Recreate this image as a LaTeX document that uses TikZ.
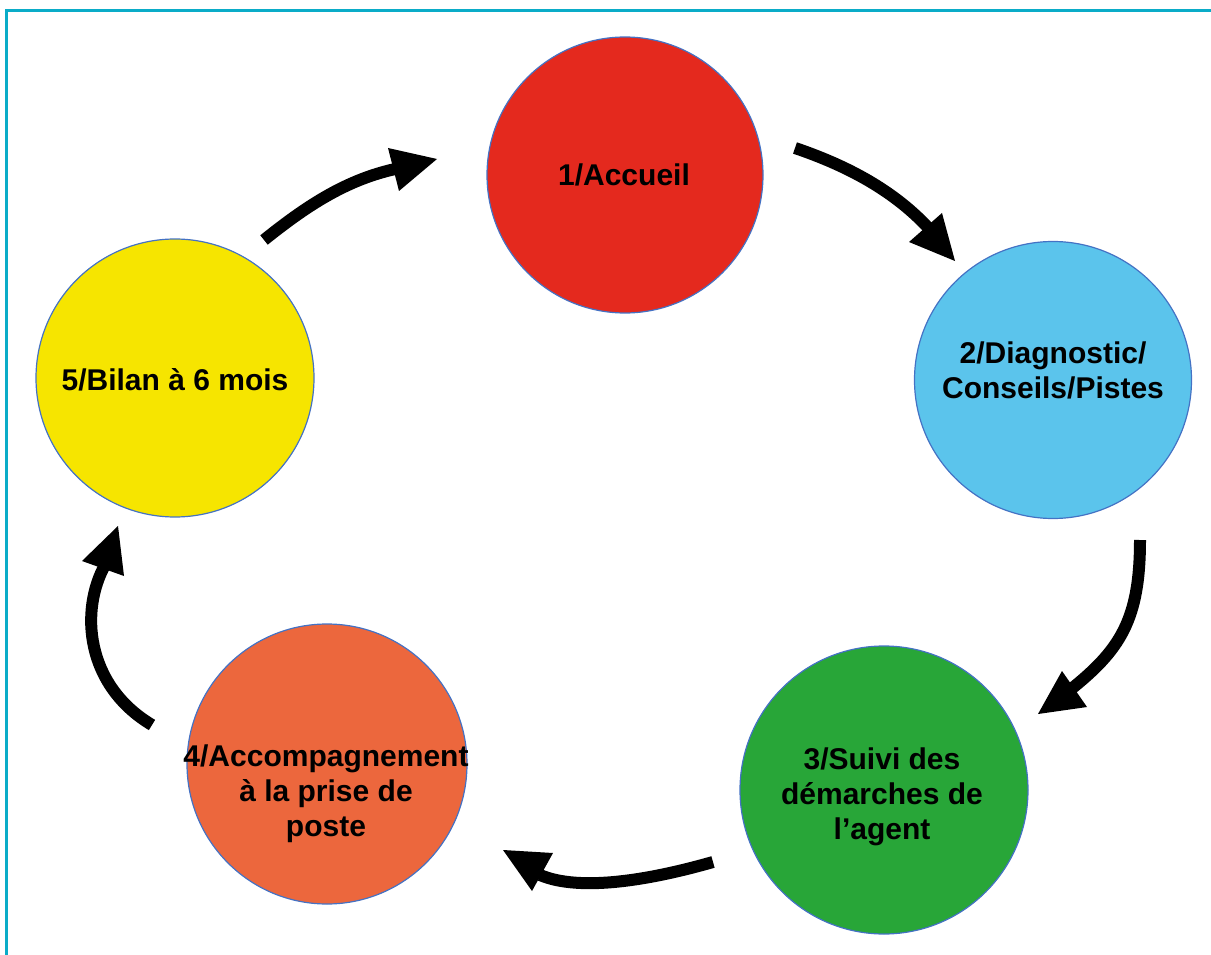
\documentclass[tikz,border=0pt]{standalone}
\usepackage{fontspec}
\setmainfont{Liberation Sans}
\definecolor{frame}{RGB}{10,172,200}
\definecolor{ring}{RGB}{68,114,196}
\definecolor{cRed}{RGB}{228,41,30}
\definecolor{cBlue}{RGB}{91,196,236}
\definecolor{cGreen}{RGB}{40,166,56}
\definecolor{cOrange}{RGB}{236,103,61}
\definecolor{cYellow}{RGB}{246,229,0}
\begin{document}
\begin{tikzpicture}[x=1pt,y=-1pt,
  stage/.style={circle,draw=ring,line width=1.2pt,inner sep=0pt},
  caption/.style={align=center,font=\bfseries\fontsize{30}{35}\selectfont,inner sep=0pt},
  shaft/.style={line width=12pt,line cap=butt},
  head/.style={fill=black}]
\useasboundingbox (0,0) rectangle (1211,955);

% page frame (top and left edges)
\draw[frame,line width=3pt] (1215,11) -- (6.5,11) -- (6.5,960);

% the five stages
\node[stage,fill=cRed,minimum size=276pt]    (c1) at (625,175) {};
\node[stage,fill=cBlue,minimum size=277pt]   (c2) at (1053,380) {};
\node[stage,fill=cGreen,minimum size=288pt]  (c3) at (884,790) {};
\node[stage,fill=cOrange,minimum size=280pt] (c4) at (327,764) {};
\node[stage,fill=cYellow,minimum size=278pt] (c5) at (175,378) {};

\node[caption] (t1) at (624,175) {1/Accueil};
\node[caption] (t2) at (1053,370) {2/Diagnostic/\\Conseils/Pistes};
\node[caption] (t3) at (882,797) {3/Suivi des\\démarches de\\l’agent};
\node[caption] (t4) at (326,794) {4/Accompagnement\\à la prise de\\poste};
\node[caption] (t5) at (175,380) {5/Bilan à 6 mois};

% connector end points
\coordinate (s1) at (264,240);  \coordinate (e1) at (400,168);
\coordinate (s2) at (795,148);  \coordinate (e2) at (932,232);
\coordinate (s3) at (1140,540); \coordinate (e3) at (1070,690);
\coordinate (s4) at (713,862);  \coordinate (e4) at (540,875);
\coordinate (s5) at (152,725);  \coordinate (e5) at (105,565);

% arrowhead corners
\coordinate (h1a) at (388,148); \coordinate (h1t) at (437,159); \coordinate (h1b) at (399,191);
\coordinate (h2a) at (942,213); \coordinate (h2t) at (955,261); \coordinate (h2b) at (909,242);
\coordinate (h3a) at (1062,671);\coordinate (h3t) at (1038,714);\coordinate (h3b) at (1087,707);
\coordinate (h4a) at (503,850); \coordinate (h4t) at (532,891); \coordinate (h4b) at (553,853);
\coordinate (h5a) at (82,561);  \coordinate (h5t) at (118,526); \coordinate (h5b) at (124,576);

% curved connectors: 5 -> 1 -> 2 -> 3 -> 4 -> 5
\draw[shaft] (s1) .. controls (310,203) and (350,178) .. (e1);
\draw[shaft] (s2) .. controls (845,165) and (895,190) .. (e2);
\draw[shaft] (s3) .. controls (1140,620) and (1120,650) .. (e3);
\draw[shaft] (s4) .. controls (650,880) and (580,892) .. (e4);
\draw[shaft] (s5) .. controls (85,685) and (80,610) .. (e5);

\fill[head] (h1a) -- (h1t) -- (h1b) -- cycle;
\fill[head] (h2a) -- (h2t) -- (h2b) -- cycle;
\fill[head] (h3a) -- (h3t) -- (h3b) -- cycle;
\fill[head] (h4a) -- (h4t) -- (h4b) -- cycle;
\fill[head] (h5a) -- (h5t) -- (h5b) -- cycle;
\end{tikzpicture}
\end{document}
